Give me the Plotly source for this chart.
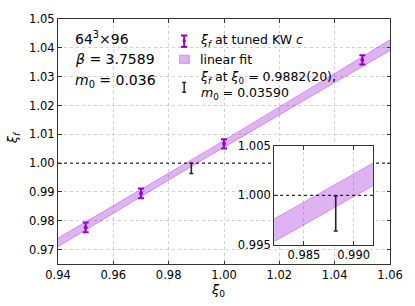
import numpy as np
import plotly.graph_objects as go

# ---------------- data ----------------
xi0_tuned = [0.95, 0.97, 1.00, 1.05]
xif_tuned = [0.9777, 0.9895, 1.0067, 1.0358]
xif_tuned_err = [0.0017, 0.0017, 0.0016, 0.0016]

xi0_target = [0.9882]
xif_target = [0.99816]
xif_target_err = [0.00178]

# linear fit: xi_f = a + b (xi0 - x0), with error band
fit_x0 = 0.987
fit_a = 0.9993
fit_b = 0.57
fit_ea = 0.00115
fit_eb = 0.0205

main_xticks = [0.94, 0.96, 0.98, 1.00, 1.02, 1.04, 1.06]
main_yticks = [0.97, 0.98, 0.99, 1.00, 1.01, 1.02, 1.03, 1.04, 1.05]
inset_xticks = [0.985, 0.990]
inset_yticks = [0.995, 1.000, 1.005]
main_xrange = [0.94, 1.06]
main_yrange = [0.965, 1.05]
inset_xrange = [0.982, 0.992]
inset_yrange = [0.995, 1.005]
ref_level = 1.0

# ---------------- style ----------------
FONT = "DejaVu Sans"
PURPLE = "#9400D3"
BAND_FILL = "rgba(148,0,211,0.30)"
BAND_EDGE = "rgba(148,0,211,0.38)"
DARK = "#222222"
GRID = "#d0d0d0"

W, H = 415, 306
ML, MR, MT, MB = 58, 21, 12, 42
PW, PH = W - ML - MR, H - MT - MB


def pxx(x):
    return (x - ML) / PW


def pxy(y):
    return (MT + PH - y) / PH


def band(xr):
    xs = np.linspace(xr[0], xr[1], 60)
    c = fit_a + fit_b * (xs - fit_x0)
    hw = np.sqrt(fit_ea ** 2 + (fit_eb * (xs - fit_x0)) ** 2)
    return xs, c - hw, c + hw


fig = go.Figure()

for xa, ya, xr in (("x", "y", main_xrange), ("x2", "y2", inset_xrange)):
    xs, lo, hi = band(xr)
    fig.add_trace(go.Scatter(x=xs, y=lo, mode="lines", xaxis=xa, yaxis=ya,
                             line=dict(color=BAND_EDGE, width=0.8),
                             showlegend=False, hoverinfo="skip"))
    fig.add_trace(go.Scatter(x=xs, y=hi, mode="lines", xaxis=xa, yaxis=ya,
                             fill="tonexty", fillcolor=BAND_FILL,
                             line=dict(color=BAND_EDGE, width=0.8),
                             showlegend=False, hoverinfo="skip"))

# reference lines at xi_f = 1
fig.add_trace(go.Scatter(x=main_xrange, y=[ref_level, ref_level], mode="lines",
                         line=dict(color="black", width=1, dash="dot"),
                         showlegend=False, hoverinfo="skip"))
fig.add_trace(go.Scatter(x=inset_xrange, y=[ref_level, ref_level], mode="lines",
                         xaxis="x2", yaxis="y2",
                         line=dict(color="black", width=1, dash="dot"),
                         showlegend=False, hoverinfo="skip"))

# tuned points
fig.add_trace(go.Scatter(x=xi0_tuned, y=xif_tuned, mode="markers",
                         marker=dict(color=PURPLE, size=4),
                         error_y=dict(type="data", array=xif_tuned_err, color=PURPLE,
                                      thickness=2, width=3),
                         showlegend=False))

# target point (main + inset)
for xa, ya in (("x", "y"), ("x2", "y2")):
    fig.add_trace(go.Scatter(x=xi0_target, y=xif_target, mode="markers",
                             xaxis=xa, yaxis=ya,
                             marker=dict(color=DARK, size=1, opacity=0),
                             error_y=dict(type="data", array=xif_target_err, color=DARK,
                                          thickness=1.6, width=2),
                             showlegend=False))

axis_common = dict(showline=True, linecolor="#333333", linewidth=1, mirror="ticks",
                   ticks="inside", ticklen=3.5, tickwidth=1, tickcolor="#333333",
                   showgrid=True, gridcolor=GRID, griddash="dot", gridwidth=1,
                   zeroline=False, tickfont=dict(family=FONT, size=11.5, color="black"))

fig.update_layout(
    width=W, height=H,
    margin=dict(l=ML, r=MR, t=MT, b=MB),
    paper_bgcolor="white", plot_bgcolor="white",
    showlegend=False,
    xaxis=dict(range=main_xrange, tickvals=main_xticks, tickformat=".2f",
               domain=[0, 1], **axis_common),
    yaxis=dict(range=main_yrange, tickvals=main_yticks, tickformat=".2f",
               domain=[0, 1], **axis_common),
    xaxis2=dict(range=inset_xrange, tickvals=inset_xticks, tickformat=".3f",
                domain=[pxx(276.7), pxx(377.3)], anchor="y2", **axis_common),
    yaxis2=dict(range=inset_yrange, tickvals=inset_yticks, tickformat=".3f",
                domain=[pxy(244), pxy(142.7)], anchor="x2", **axis_common),
)

ann = []
# axis labels
ann.append(dict(text="<i>ξ</i><sub><i>f</i></sub>", x=pxx(13), y=pxy(134), xref="paper", yref="paper",
                xanchor="center", yanchor="middle",
                showarrow=False, textangle=-90, font=dict(family=FONT, size=13, color="black")))
ann.append(dict(text="<i>ξ</i><sub>0</sub>", x=pxx(220), y=pxy(291), xref="paper", yref="paper",
                xanchor="center", yanchor="middle",
                showarrow=False, font=dict(family=FONT, size=13, color="black")))
# parameters text
for txt, yc in (("64<sup>3</sup>×96", 31.7), ("<i>β</i> = 3.7589", 52.7),
                ("<i>m</i><sub>0</sub> = 0.036", 76.0)):
    ann.append(dict(text=txt, x=pxx(73), y=pxy(yc), xref="paper", yref="paper",
                    xanchor="left", yanchor="middle", showarrow=False,
                    font=dict(family=FONT, size=14, color="black")))
# legend text
for txt, yc in (("<i>ξ</i><sub><i>f</i></sub> at tuned KW <i>c</i>", 34),
                ("linear fit", 53.5),
                ("<i>ξ</i><sub><i>f</i></sub> at <i>ξ</i><sub>0</sub> = 0.9882(20),<br><i>m</i><sub>0</sub> = 0.03590", 80)):
    ann.append(dict(text=txt, x=pxx(200), y=pxy(yc), xref="paper", yref="paper",
                    xanchor="left", yanchor="middle", align="left", showarrow=False,
                    font=dict(family=FONT, size=12.5, color="black")))
fig.update_layout(annotations=ann)

shapes = []


def seg(x0, y0, x1, y1, color, width):
    shapes.append(dict(type="line", xref="paper", yref="paper",
                       x0=pxx(x0), y0=pxy(y0), x1=pxx(x1), y1=pxy(y1),
                       line=dict(color=color, width=width)))


# purple errorbar legend glyph
seg(185.7, 29, 185.7, 40.7, PURPLE, 2)
seg(182.5, 29, 188.9, 29, PURPLE, 2)
seg(182.5, 40.7, 188.9, 40.7, PURPLE, 2)
shapes.append(dict(type="circle", xref="paper", yref="paper",
                   x0=pxx(184), x1=pxx(187.4), y0=pxy(36), y1=pxy(32.6),
                   fillcolor=PURPLE, line=dict(width=0)))
# band legend square
shapes.append(dict(type="rect", xref="paper", yref="paper",
                   x0=pxx(181), x1=pxx(191), y0=pxy(57.7), y1=pxy(49.3),
                   fillcolor=BAND_FILL, line=dict(color=BAND_EDGE, width=0.8)))
# black errorbar legend glyph
seg(185.7, 77.3, 185.7, 87.3, DARK, 1.4)
seg(183.7, 77.3, 187.7, 77.3, DARK, 1.4)
seg(183.7, 87.3, 187.7, 87.3, DARK, 1.4)
fig.update_layout(shapes=shapes)

fig.write_html("out.html", config={"displayModeBar": False},
               post_script="document.body.style.margin='0';document.body.style.overflow='hidden';")
